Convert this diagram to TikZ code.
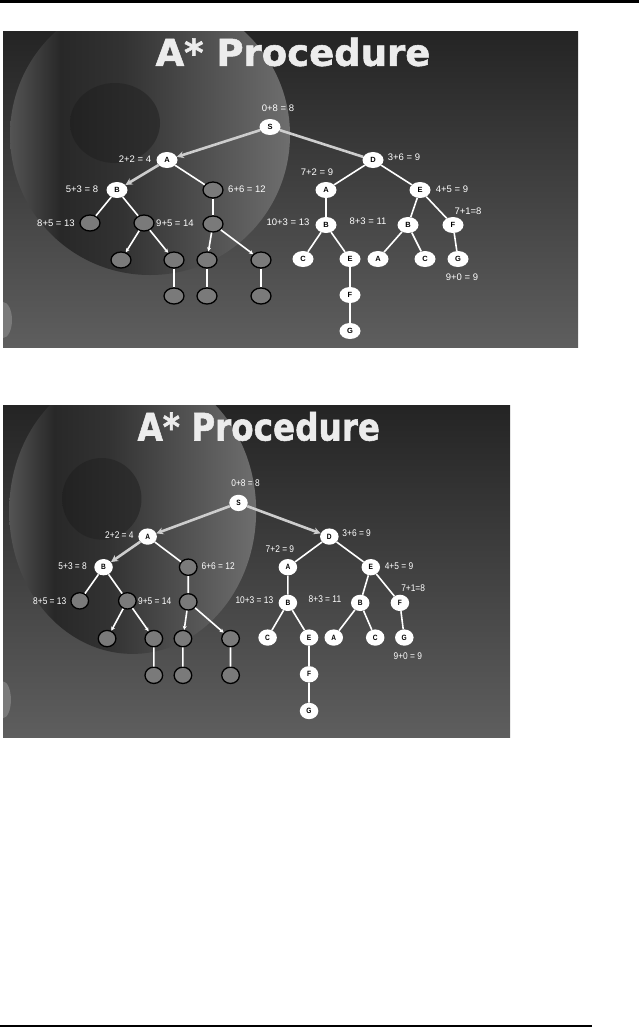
\documentclass[tikz,border=0pt]{standalone}
\usepackage{fontspec}
\setmainfont{Liberation Sans}
\newfontfamily\titlefont[FakeBold=1.5]{DejaVu Sans Bold}
\usepackage{tikz}
\usetikzlibrary{shapes.geometric, arrows.meta}
\definecolor{cSlideTop}{RGB}{36,36,36}
\definecolor{cSlideBot}{RGB}{94,94,94}
\definecolor{cDiscL}{RGB}{84,84,84}
\definecolor{cDiscD}{RGB}{40,40,40}
\definecolor{cDiscM}{RGB}{50,50,50}
\definecolor{cDiscN}{RGB}{80,80,80}
\definecolor{cDiscR}{RGB}{110,110,110}
\definecolor{cHoleL}{RGB}{34,34,34}
\definecolor{cHoleR}{RGB}{46,46,46}
\definecolor{cBump}{RGB}{122,122,122}
\definecolor{cGrayNode}{RGB}{122,122,122}
\definecolor{cPath}{RGB}{205,205,205}
\definecolor{cTitle}{RGB}{236,236,236}
\pgfdeclarehorizontalshading{discshade}{100bp}{color(0bp)=(cDiscL); color(25bp)=(cDiscL); color(34bp)=(cDiscD); color(45bp)=(cDiscM); color(60bp)=(cDiscN); color(75bp)=(cDiscR); color(100bp)=(cDiscR)}
\tikzset{
	wnode/.style   ={ellipse, fill=white, minimum width=21, minimum height=16, inner sep=0pt, font={\fontsize{7.5}{8}\selectfont\bfseries}},
	gnode/.style   ={ellipse, fill=cGrayNode, draw=black, line width=1.3pt, minimum width=20, minimum height=16, inner sep=0pt},
	costlbl/.style ={text=white, inner sep=0pt, font={\fontsize{9.5}{11}\selectfont}},
	titletext/.style={text=cTitle, inner sep=0pt, font={\titlefont\fontsize{37}{40}\selectfont}},
	edge/.style    ={draw=white, line width=1.6pt},
	smalledge/.style={edge, -{Stealth[length=4pt, width=4pt]}},
	% best path so far
	pathline/.style={draw=cPath, line width=2.6pt},
	pathedge/.style={pathline, -{Stealth[length=7pt, width=7pt]}},
}
% one slide of the search tree; #1 name prefix, #2 slide height, #3 style of S--D
\newcommand{\astarslide}[3]{%
	\begin{scope}
		\clip (0,0) rectangle (575,#2);
		\shade[top color=cSlideTop, bottom color=cSlideBot] (0,0) rectangle (575,#2);
		\shade[shading=discshade] (147,104) circle[radius=140];
		\shade[left color=cHoleL, right color=cHoleR] (112,92) ellipse[x radius=45, y radius=40];
		\fill[cBump] (0,289) ellipse[x radius=9, y radius=18];
	\end{scope}
	\node[titletext] (#1Title) at (290,21) {A* Procedure};
	% open nodes
	\foreach \n/\x/\y/\t in {S/267/96/S, A/164/129/A, B/114/159/B, D/370/129/D,
		DA/323/159/A, DE/417/159/E, DAB/323/194/B, DEB/405/194/B, DEF/450/194/F,
		DABC/300/228/C, DABE/347/228/E, DEBA/375/228/A, DEBC/422/228/C, DEFG/455/228/G,
		DABEF/347/264/F, DABEFG/347/300/G}
		\node[wnode] (#1\n) at (\x,\y) {\t};
	% pruned nodes
	\foreach \n/\x/\y in {N1/210/159, N2/87/192, N3/141/192, N4/210/193, N5/118/229, N6/171/229,
		N7/204/229, N8/258/229, N9/171/265, N10/204/265, N11/258/265}
		\node[gnode] (#1\n) at (\x,\y) {};
	% f = g + h
	\foreach \n/\x/\y/\t in {S/275/77/{0+8 = 8}, A/132/128/{2+2 = 4}, B/79/158/{5+3 = 8},
		N1/244/158/{6+6 = 12}, N2/53/192/{8+5 = 13}, N3/172/192/{9+5 = 14},
		D/401/126/{3+6 = 9}, DA/314/141/{7+2 = 9}, DE/449/158/{4+5 = 9},
		DAB/285/191/{10+3 = 13}, DEB/365/190/{8+3 = 11}, DEF/465/180/{7+1=8},
		DEFG/459/246/{9+0 = 9}}
		\node[costlbl] (#1L\n) at (\x,\y) {\t};
	\draw[pathedge] (#1S) -- (#1A);
	\draw[pathedge] (#1A) -- (#1B);
	\draw[#3] (#1S) -- (#1D);
	\foreach \a/\b in {A/N1, B/N2, B/N3, N1/N4, N6/N9, N7/N10, N8/N11,
		D/DA, D/DE, DA/DAB, DAB/DABC, DAB/DABE, DABE/DABEF, DABEF/DABEFG,
		DE/DEB, DE/DEF, DEB/DEBA, DEB/DEBC, DEF/DEFG}
		\draw[edge] (#1\a) -- (#1\b);
	\foreach \a/\b in {N3/N5, N3/N6, N4/N7, N4/N8}
		\draw[smalledge] (#1\a) -- (#1\b);
}

\begin{document}
\begin{tikzpicture}[x=1pt, y=-1pt]
	\useasboundingbox (0,0) rectangle (639,1029);
	\fill[black] (0,0) rectangle (639,3);
	\fill[black] (0,1025) rectangle (592,1027);
	\begin{scope}[shift={(3,31)}, transform shape]
		\astarslide{p}{316}{pathline}
	\end{scope}
	\begin{scope}[shift={(3,405)}, xscale=0.882, yscale=1.02, transform shape]
		\astarslide{q}{325.5}{pathedge}
	\end{scope}
\end{tikzpicture}
\end{document}
